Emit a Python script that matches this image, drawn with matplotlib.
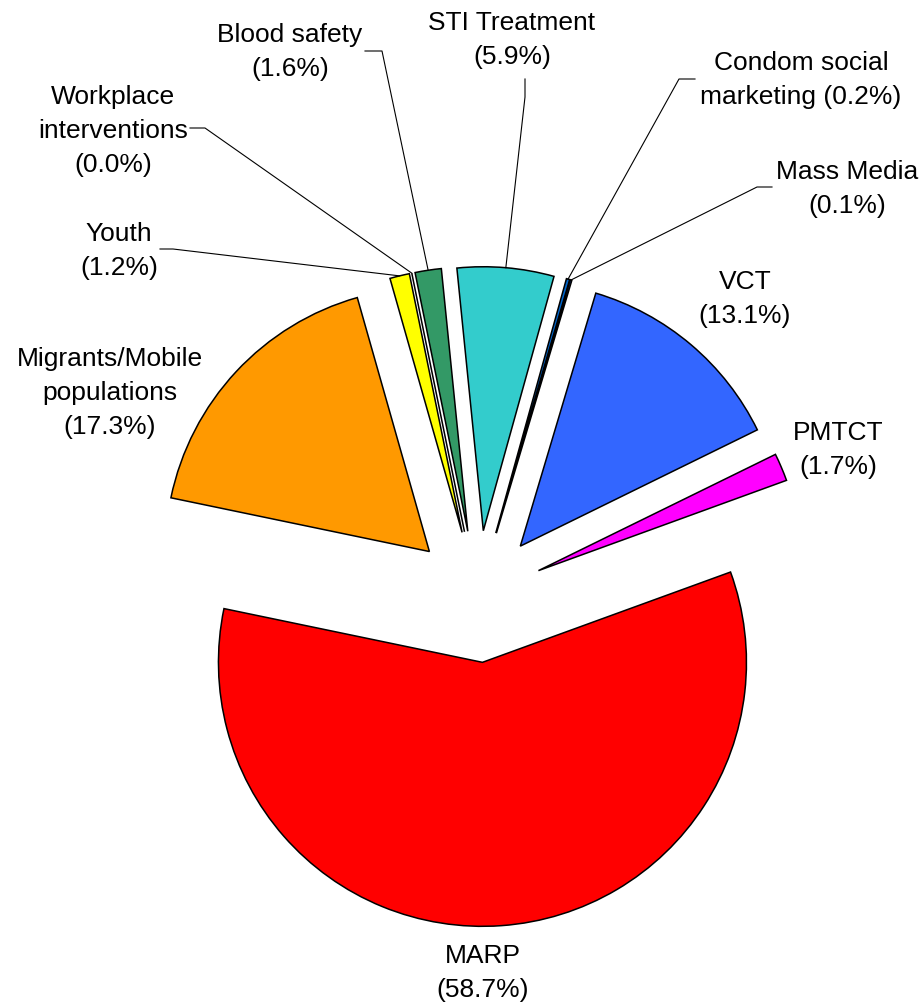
import matplotlib.pyplot as plt
import numpy as np

plt.rcParams['font.family'] = ['Liberation Sans', 'DejaVu Sans']

# data (clockwise from the right side)
labels = ['MARP', 'Migrants/Mobile\npopulations', 'Youth', 'Workplace\ninterventions',
          'Blood safety', 'STI Treatment', 'Condom social\nmarketing', 'Mass Media',
          'VCT', 'PMTCT']
shares = [58.7, 17.3, 1.2, 0.0, 1.6, 5.9, 0.2, 0.1, 13.1, 1.7]
colors = ['#FF0000', '#FF9900', '#FFFF00', '#993366', '#339966', '#33CCCC',
          '#0066CC', '#3366FF', '#3366FF', '#FF00FF']

W, H = 923, 1005
fig = plt.figure(figsize=(W / 100, H / 100), dpi=100)
ax = fig.add_axes([0, 0, 1, 1])

cx, cy = 477.7, H - 596.5
R = 264
# explode in pie() is an absolute offset, so scale it by the radius
wedges, _ = ax.pie(shares, colors=colors, startangle=20, counterclock=False,
                   radius=R, center=(cx, cy), explode=[0.25 * R] * len(shares),
                   wedgeprops=dict(edgecolor='black', linewidth=1.1))

ax.set_xlim(0, W)
ax.set_ylim(0, H)
ax.set_aspect('equal')
ax.axis('off')

# label layout in image pixels (x, y from top)
label_pos = [(483, 973), (110, 393), (119, 251), (113, 131), (290, 52),
             (512, 40), (801, 80), (847, 189), (745, 299), (838, 450)]
# leader elbows: (text end, elbow) in image pixels
leaders = {2: ((160, 249), (173, 249)), 3: ((190, 128), (205, 128)),
           4: ((365, 51), (382, 51)), 5: ((525, 79), (525, 97)),
           6: ((695, 79), (679, 79)), 7: ((772, 187), (757, 187))}

for i, (lab, val) in enumerate(zip(labels, shares)):
    x, y = label_pos[i]
    if i == 6:
        txt = 'Condom social\nmarketing (%.1f%%)' % val
    else:
        txt = '%s\n(%.1f%%)' % (lab, val)
    ax.text(x, H - y, txt, ha='center', va='center', fontsize=19,
            linespacing=1.55, multialignment='center')
    if i in leaders:
        w = wedges[i]
        mid = np.deg2rad((w.theta1 + w.theta2) / 2)
        ex, ey = w.center
        px, py = ex + R * np.cos(mid), ey + R * np.sin(mid)
        (x0, y0), (x1, y1) = leaders[i]
        ax.plot([x0, x1, px], [H - y0, H - y1, py], color='black', lw=0.8)

fig.savefig('out.png', dpi=100)
